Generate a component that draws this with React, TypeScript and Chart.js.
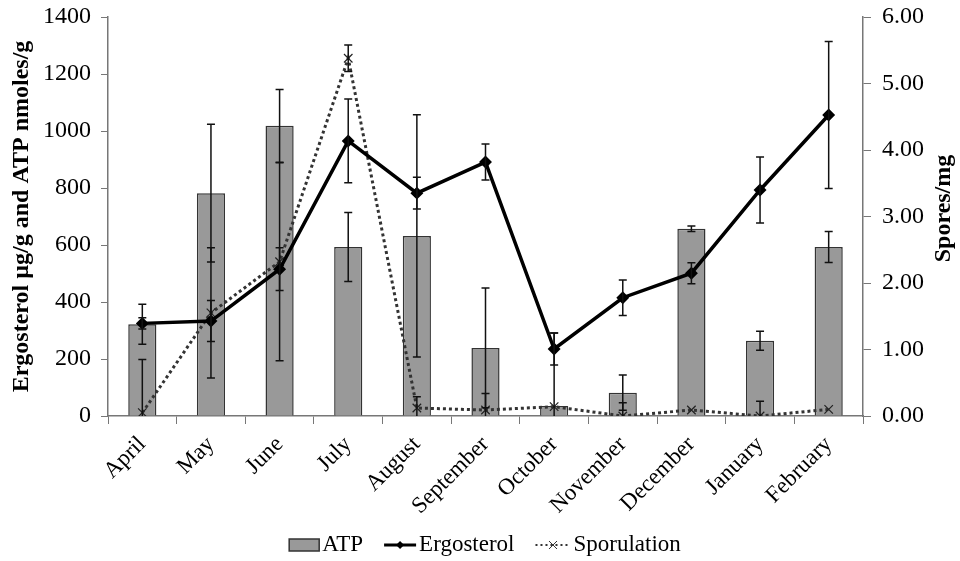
import React, { useEffect, useRef } from 'react';
import { Chart, registerables } from 'chart.js';

Chart.register(...registerables);

const months = ['April', 'May', 'June', 'July', 'August', 'September', 'October', 'November', 'December', 'January', 'February'];
const atp = [322, 782, 1018, 593, 632, 239, 35, 82, 657, 264, 593];
const atpErr = [70, 242, 128, 121, 425, 210, 256, 62, 10, 33, 54];
const ergosterol = [325, 333, 515, 965, 782, 891, 235, 415, 501, 793, 1056];
const ergosterolErr = [20, 72, 75, 147, 56, 63, 56, 62, 37, 116, 258];
const sporulation = [0.05, 1.55, 2.32, 5.38, 0.12, 0.09, 0.14, 0.0, 0.09, 0.0, 0.1];
const sporulationErr = [0.8, 0.98, 1.49, 0.2, 0.17, 0.25, 0, 0.2, 0, 0.22, 0];
const seriesNames = ['ATP', 'Ergosterol', 'Sporulation'];
const leftAxisTitle = 'Ergosterol µg/g and ATP nmoles/g';
const rightAxisTitle = 'Spores/mg';

const FONT = "'Liberation Serif', 'Times New Roman', serif";
const errorSets = [atpErr, ergosterolErr, sporulationErr];

const errorBarPlugin = {
  id: 'errorBars',
  afterDatasetsDraw(chart: any) {
    const ctx = chart.ctx;
    const xs = chart.scales.x;
    chart.data.datasets.forEach((ds: any, i: number) => {
      const ys = chart.scales[ds.yAxisID];
      const err = errorSets[i];
      ds.data.forEach((v: number, j: number) => {
        const e = err[j];
        if (!e) return;
        const px = xs.getPixelForValue(j);
        const loV = v - e;
        const hiV = v + e;
        const yTop = ys.getPixelForValue(Math.min(hiV, ys.max));
        const yBot = ys.getPixelForValue(Math.max(loV, ys.min));
        ctx.save();
        ctx.strokeStyle = '#111';
        ctx.lineWidth = 1.5;
        ctx.beginPath();
        ctx.moveTo(px, yTop);
        ctx.lineTo(px, yBot);
        ctx.moveTo(px - 4, yTop);
        ctx.lineTo(px + 4, yTop);
        if (loV >= ys.min) {
          ctx.moveTo(px - 4, yBot);
          ctx.lineTo(px + 4, yBot);
        }
        ctx.stroke();
        ctx.restore();
      });
    });
  },
};

const rightTitlePlugin = {
  id: 'rightTitle',
  afterDraw(chart: any) {
    const ctx = chart.ctx;
    const area = chart.chartArea;
    ctx.save();
    ctx.font = `bold 24px ${FONT}`;
    ctx.fillStyle = '#000';
    ctx.textAlign = 'center';
    ctx.textBaseline = 'middle';
    ctx.translate(944, (area.top + area.bottom) / 2 - 8);
    ctx.rotate(-Math.PI / 2);
    ctx.fillText(rightAxisTitle, 0, 0);
    ctx.restore();
  },
};

const legendPlugin = {
  id: 'customLegend',
  afterDraw(chart: any) {
    const ctx = chart.ctx;
    ctx.save();
    ctx.font = `23px ${FONT}`;
    ctx.textBaseline = 'middle';
    ctx.fillStyle = '#000';
    const symW = [30, 32, 35];
    const gapSym = 3;
    const gapItem = 21;
    const textW = seriesNames.map((n) => ctx.measureText(n).width);
    let total = 0;
    seriesNames.forEach((_, i) => {
      total += symW[i] + gapSym + textW[i];
    });
    total += gapItem * (seriesNames.length - 1);
    let x = 485 - total / 2;
    const y = 545;
    seriesNames.forEach((name, i) => {
      const w = symW[i];
      if (i === 0) {
        ctx.fillStyle = '#999999';
        ctx.fillRect(x, y - 6, w, 12);
        ctx.strokeStyle = '#333';
        ctx.lineWidth = 1.5;
        ctx.strokeRect(x, y - 6, w, 12);
      } else if (i === 1) {
        ctx.strokeStyle = '#000';
        ctx.lineWidth = 3;
        ctx.beginPath();
        ctx.moveTo(x, y);
        ctx.lineTo(x + w, y);
        ctx.stroke();
        ctx.fillStyle = '#000';
        ctx.beginPath();
        const cx = x + w / 2;
        ctx.moveTo(cx, y - 4);
        ctx.lineTo(cx + 4, y);
        ctx.lineTo(cx, y + 4);
        ctx.lineTo(cx - 4, y);
        ctx.closePath();
        ctx.fill();
      } else {
        ctx.strokeStyle = '#333';
        ctx.lineWidth = 2;
        ctx.setLineDash([2, 3]);
        ctx.beginPath();
        ctx.moveTo(x, y);
        ctx.lineTo(x + w, y);
        ctx.stroke();
        ctx.setLineDash([]);
        const cx = x + w / 2;
        ctx.lineWidth = 1;
        ctx.beginPath();
        ctx.moveTo(cx - 4, y - 4);
        ctx.lineTo(cx + 4, y + 4);
        ctx.moveTo(cx + 4, y - 4);
        ctx.lineTo(cx - 4, y + 4);
        ctx.stroke();
      }
      x += w + gapSym;
      ctx.fillStyle = '#000';
      ctx.fillText(name, x, y);
      x += textW[i] + gapItem;
    });
    ctx.restore();
  },
};

export default function App() {
  const ref = useRef<HTMLCanvasElement | null>(null);

  useEffect(() => {
    document.body.style.margin = '0';
    const canvas = ref.current;
    if (!canvas) return;
    const axisColor = '#777';
    const chart = new Chart(canvas, {
      type: 'bar',
      data: {
        labels: months,
        datasets: [
          {
            type: 'bar',
            label: seriesNames[0],
            data: atp,
            yAxisID: 'y',
            backgroundColor: '#999999',
            borderColor: '#333333',
            borderWidth: 1.5,
            categoryPercentage: 1,
            barPercentage: 0.41,
            order: 2,
          },
          {
            type: 'line',
            label: seriesNames[1],
            data: ergosterol,
            yAxisID: 'y',
            borderColor: '#000',
            backgroundColor: '#000',
            borderWidth: 3.5,
            pointStyle: 'rectRot',
            pointRadius: 4,
            pointBackgroundColor: '#000',
            pointBorderColor: '#000',
            tension: 0,
            order: 0,
          },
          {
            type: 'line',
            label: seriesNames[2],
            data: sporulation,
            yAxisID: 'y1',
            borderColor: '#333',
            backgroundColor: '#333',
            borderWidth: 3,
            borderDash: [3, 3],
            pointStyle: 'crossRot',
            pointRadius: 6,
            pointBorderWidth: 1.2,
            pointBorderColor: '#222',
            tension: 0,
            order: 1,
          },
        ],
      } as any,
      options: {
        animation: false,
        responsive: false,
        layout: { padding: { top: 17, bottom: 35, left: 0, right: 0 } },
        plugins: {
          legend: { display: false },
          tooltip: { enabled: false },
        },
        scales: {
          x: {
            offset: true,
            grid: { drawOnChartArea: false, drawTicks: true, tickLength: 8, color: axisColor, offset: true },
            border: { display: true, color: axisColor, width: 1.5 },
            ticks: {
              color: '#000',
              font: { family: FONT, size: 23 },
              minRotation: 45,
              maxRotation: 45,
              padding: 7,
              autoSkip: false,
            },
            afterFit(scale: any) {
              scale.height = 110;
              scale.paddingLeft = 0;
              scale.paddingRight = 0;
            },
          },
          y: {
            position: 'left',
            min: 0,
            max: 1400,
            ticks: {
              stepSize: 200,
              color: '#000',
              font: { family: FONT, size: 24 },
              padding: 10,
              callback: (v: any) => String(v),
            },
            grid: { drawOnChartArea: false, drawTicks: true, tickLength: 7, color: axisColor },
            border: { display: true, color: axisColor, width: 1.5 },
            title: {
              display: true,
              text: leftAxisTitle,
              color: '#000',
              font: { family: FONT, size: 24, weight: 'bold' },
              padding: { top: 7, bottom: 0 },
            },
            afterFit(scale: any) {
              scale.width = 108;
              scale.paddingTop = 0;
              scale.paddingBottom = 0;
            },
          },
          y1: {
            position: 'right',
            min: 0,
            max: 6,
            ticks: {
              stepSize: 1,
              color: '#000',
              font: { family: FONT, size: 24 },
              padding: 11,
              callback: (v: any) => Number(v).toFixed(2),
            },
            grid: { drawOnChartArea: false, drawTicks: true, tickLength: 8, color: axisColor },
            border: { display: true, color: axisColor, width: 1.5 },
            afterFit(scale: any) {
              scale.width = 97;
              scale.paddingTop = 0;
              scale.paddingBottom = 0;
            },
          },
        },
      } as any,
      plugins: [errorBarPlugin, legendPlugin, rightTitlePlugin],
    });
    return () => chart.destroy();
  }, []);

  return (
    <div style={{ position: 'absolute', left: 0, top: 0, width: 960, height: 561, background: '#fff' }}>
      <canvas ref={ref} width={960} height={561} />
    </div>
  );
}
